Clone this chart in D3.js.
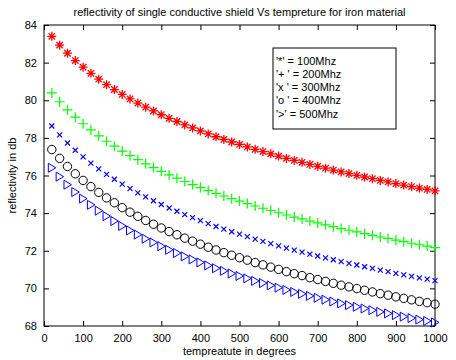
<!DOCTYPE html>
<html>
<head>
<meta charset="utf-8">
<script src="https://cdn.jsdelivr.net/npm/d3@7"></script>
<style>
  body { margin: 0; background: #fff; }
  svg { display: block; font-family: Arial, "Liberation Sans", sans-serif; }
  .tick text { font-size: 11px; fill: #000; }
</style>
</head>
<body>
<div id="content"></div>
<script>
// temperature in degrees
const temps = d3.range(20, 1001, 20);

const xTicks = [0, 100, 200, 300, 400, 500, 600, 700, 800, 900, 1000];
const yTicks = [68, 70, 72, 74, 76, 78, 80, 82, 84];

// reflectivity in db
const r100 = [83.40, 82.93, 82.50, 82.11, 81.76, 81.43, 81.12, 80.83, 80.57, 80.31,
              80.07, 79.85, 79.63, 79.43, 79.23, 79.04, 78.87, 78.69, 78.53, 78.37,
              78.21, 78.06, 77.92, 77.78, 77.65, 77.52, 77.39, 77.27, 77.15, 77.03,
              76.91, 76.80, 76.70, 76.59, 76.49, 76.39, 76.29, 76.19, 76.10, 76.01,
              75.92, 75.83, 75.74, 75.66, 75.57, 75.49, 75.41, 75.33, 75.26, 75.18];
const r200 = [80.39, 79.92, 79.49, 79.10, 78.75, 78.42, 78.11, 77.82, 77.56, 77.30,
              77.06, 76.84, 76.62, 76.42, 76.22, 76.03, 75.86, 75.68, 75.52, 75.36,
              75.20, 75.05, 74.91, 74.77, 74.64, 74.51, 74.38, 74.26, 74.14, 74.02,
              73.90, 73.79, 73.69, 73.58, 73.48, 73.38, 73.28, 73.18, 73.09, 73.00,
              72.91, 72.82, 72.73, 72.65, 72.56, 72.48, 72.40, 72.32, 72.25, 72.17];
const r300 = [78.63, 78.16, 77.73, 77.34, 76.99, 76.66, 76.35, 76.06, 75.80, 75.54,
              75.30, 75.08, 74.86, 74.66, 74.46, 74.27, 74.10, 73.92, 73.76, 73.60,
              73.44, 73.29, 73.15, 73.01, 72.88, 72.75, 72.62, 72.50, 72.38, 72.26,
              72.14, 72.03, 71.93, 71.82, 71.72, 71.62, 71.52, 71.42, 71.33, 71.24,
              71.15, 71.06, 70.97, 70.89, 70.80, 70.72, 70.64, 70.56, 70.49, 70.41];
const r400 = [77.38, 76.91, 76.48, 76.09, 75.74, 75.41, 75.10, 74.81, 74.55, 74.29,
              74.05, 73.83, 73.61, 73.41, 73.21, 73.02, 72.85, 72.67, 72.51, 72.35,
              72.19, 72.04, 71.90, 71.76, 71.63, 71.50, 71.37, 71.25, 71.13, 71.01,
              70.89, 70.78, 70.68, 70.57, 70.47, 70.37, 70.27, 70.17, 70.08, 69.99,
              69.90, 69.81, 69.72, 69.64, 69.55, 69.47, 69.39, 69.31, 69.24, 69.16];
const r500 = [76.41, 75.94, 75.51, 75.12, 74.77, 74.44, 74.13, 73.84, 73.58, 73.32,
              73.08, 72.86, 72.64, 72.44, 72.24, 72.05, 71.88, 71.70, 71.54, 71.38,
              71.22, 71.07, 70.93, 70.79, 70.66, 70.53, 70.40, 70.28, 70.16, 70.04,
              69.92, 69.81, 69.71, 69.60, 69.50, 69.40, 69.30, 69.20, 69.11, 69.02,
              68.93, 68.84, 68.75, 68.67, 68.58, 68.50, 68.42, 68.34, 68.27, 68.19];

const legendLabels = ["'*' = 100Mhz", "'+ ' = 200Mhz", "'x ' = 300Mhz", "'o ' = 400Mhz", "'>' = 500Mhz"];

const width = 456;
const height = 360;
const m = {left: 44, right: 435, top: 25, bottom: 326};

// marker shapes drawn around (0,0)
const markers = {
  star: 'M-4.5,0H4.5M0,-4.5V4.5M-3.2,-3.2L3.2,3.2M-3.2,3.2L3.2,-3.2',
  plus: 'M-5,0H5M0,-5V5',
  cross: 'M-2.5,-2.5L2.5,2.5M-2.5,2.5L2.5,-2.5',
  circle: 'M4.2,0A4.2,4.2 0 1,1 -4.2,0A4.2,4.2 0 1,1 4.2,0Z',
  tri: 'M-3.5,-4.5L4,0L-3.5,4.5Z'
};

const series = [
  {values: r100, color: '#ff0000', mark: markers.star, sw: 1.3},
  {values: r200, color: '#00ff00', mark: markers.plus, sw: 1.2},
  {values: r300, color: '#0000ff', mark: markers.cross, sw: 1.2},
  {values: r400, color: '#000000', mark: markers.circle, sw: 1},
  {values: r500, color: '#0000ff', mark: markers.tri, sw: 1}
];

const svg = d3.select('#content')
              .append('svg')
              .attr('width', width)
              .attr('height', height);

const x = d3.scaleLinear().domain([0, 1000]).range([m.left, m.right]);
const y = d3.scaleLinear().domain([68, 84]).range([m.bottom, m.top]);

// axes with ticks pointing inwards
svg.append('g')
   .attr('transform', 'translate(0,' + m.bottom + ')')
   .call(d3.axisBottom(x).tickValues(xTicks).tickSize(-5).tickPadding(8).tickFormat(d3.format('d')));
svg.append('g')
   .attr('transform', 'translate(0,' + m.top + ')')
   .call(d3.axisTop(x).tickValues(xTicks).tickSize(-5).tickFormat(''));
svg.append('g')
   .attr('transform', 'translate(' + m.left + ',0)')
   .call(d3.axisLeft(y).tickValues(yTicks).tickSize(-5).tickPadding(7));
svg.append('g')
   .attr('transform', 'translate(' + m.right + ',0)')
   .call(d3.axisRight(y).tickValues(yTicks).tickSize(-5).tickFormat(''));

svg.selectAll('.domain').remove();
svg.selectAll('.tick line').attr('stroke', '#000');
svg.selectAll('.tick text').attr('font-family', 'Arial, "Liberation Sans", sans-serif').attr('font-size', 11);

svg.append('rect')
   .attr('x', m.left).attr('y', m.top)
   .attr('width', m.right - m.left).attr('height', m.bottom - m.top)
   .attr('fill', 'none').attr('stroke', '#000');

// data markers
series.forEach(s => {
  svg.append('g')
     .selectAll('path')
     .data(s.values)
     .enter()
     .append('path')
     .attr('transform', (d, i) => 'translate(' + x(temps[i]) + ',' + y(d) + ')')
     .attr('d', s.mark)
     .attr('fill', 'none')
     .attr('stroke', s.color)
     .attr('stroke-width', s.sw);
});

// legend box
const legend = svg.append('g').attr('transform', 'translate(273,48)');
legend.append('rect')
      .attr('width', 123).attr('height', 81)
      .attr('fill', '#fff').attr('stroke', '#000');
legend.selectAll('text')
      .data(legendLabels)
      .enter()
      .append('text')
      .attr('x', 3)
      .attr('y', (d, i) => 16.5 + i * 13.3)
      .attr('font-size', 11)
      .text(d => d);

// titles
svg.append('text')
   .attr('x', (m.left + m.right) / 2).attr('y', 16)
   .attr('text-anchor', 'middle').attr('font-size', 11)
   .text('reflectivity of single conductive shield Vs tempreture for iron material');
svg.append('text')
   .attr('x', (m.left + m.right) / 2).attr('y', 355)
   .attr('text-anchor', 'middle').attr('font-size', 11)
   .text('tempreatute in degrees');
svg.append('text')
   .attr('transform', 'translate(16,' + (m.top + m.bottom) / 2 + ') rotate(-90)')
   .attr('text-anchor', 'middle').attr('font-size', 11)
   .text('reflectivity in db');
</script>
</body>
</html>
